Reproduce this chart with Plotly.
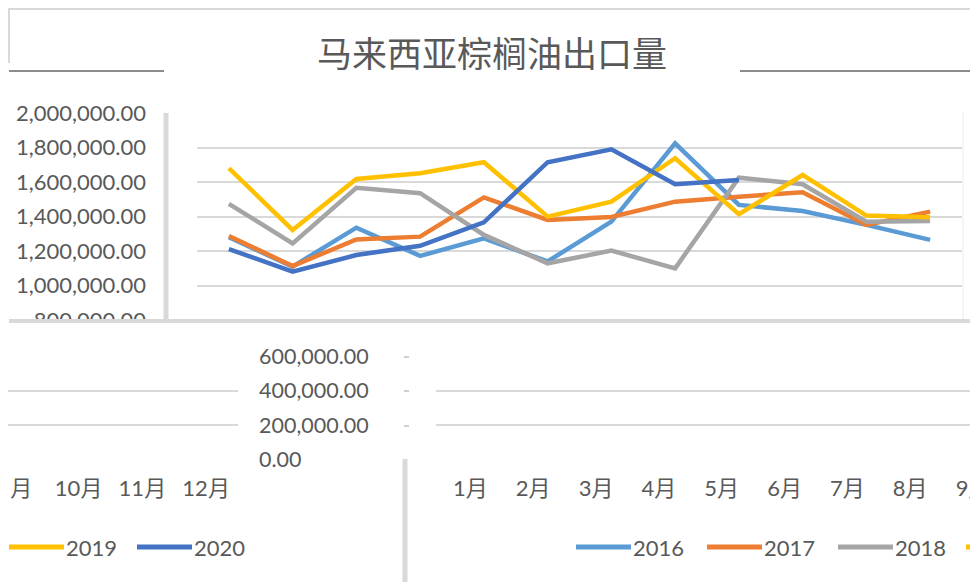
import plotly.graph_objects as go

W, H = 970, 582

months = ["1月", "2月", "3月", "4月", "5月", "6月", "7月", "8月", "9月", "10月", "11月", "12月"]
years = ["2016", "2017", "2018", "2019", "2020"]
colors = ["#5B9BD5", "#ED7D31", "#A5A5A5", "#FFC000", "#4472C4"]

v2016 = [1280000, 1110000, 1336000, 1172000, 1274000, 1140000, 1371000, 1826000, 1468000, 1433000, 1352000, 1265000]
v2017 = [1288000, 1113000, 1268000, 1284000, 1512000, 1381000, 1398000, 1487000, 1516000, 1541000, 1352000, 1429000]
v2018 = [1474000, 1245000, 1568000, 1536000, 1294000, 1129000, 1203000, 1100000, 1626000, 1588000, 1371000, 1375000]
v2019 = [1681000, 1323000, 1619000, 1652000, 1716000, 1400000, 1487000, 1739000, 1414000, 1642000, 1406000, 1396000]
v2020 = [1212000, 1081000, 1177000, 1231000, 1367000, 1716000, 1791000, 1588000, 1613000]
series = [v2016, v2017, v2018, v2019, v2020]

title = "马来西亚棕榈油出口量"
TXT = "#595959"
GRID = "#d9d9d9"
FONT = "Lato, 'Noto Sans CJK SC'"


def px(x):
    return x / W


def py(y):
    return 1 - y / H


fig = go.Figure()
for name, vals, col in zip(years, series, colors):
    fig.add_trace(go.Scatter(x=months[:len(vals)], y=vals, name=name, mode="lines",
                             line=dict(color=col, width=4.5), showlegend=False,
                             xaxis="x", yaxis="y"))

# the broken lower strips of the chart: empty axes that only show grid and labels
fig.add_trace(go.Scatter(x=months, y=[None] * 12, showlegend=False, xaxis="x2", yaxis="y2"))
fig.add_trace(go.Scatter(x=months, y=[None] * 12, showlegend=False, xaxis="x3", yaxis="y3"))

grid = dict(showgrid=True, gridcolor=GRID, gridwidth=2, zeroline=False, showline=False,
            automargin=False)
xcat = dict(type="category", categoryorder="array", categoryarray=months, showgrid=False,
            zeroline=False, automargin=False)

fig.update_layout(
    width=W, height=H, margin=dict(l=0, r=0, t=0, b=0, autoexpand=False),
    paper_bgcolor="white", plot_bgcolor="white",
    font=dict(family=FONT, color=TXT),
    xaxis=dict(domain=[px(197), px(962)], range=[-0.5, 11.5], showticklabels=False,
               anchor="y", **xcat),
    yaxis=dict(domain=[py(320), py(113.3)], range=[800000, 2000000], dtick=200000,
               tickformat=",.2f", tickfont=dict(size=22, color=TXT),
               ticklabelstandoff=50, anchor="x", **grid),
    xaxis2=dict(domain=[px(8), px(238)], range=[7.892, 11.5],
                tickfont=dict(size=22, color=TXT), ticklabelstandoff=13, anchor="y2", **xcat),
    yaxis2=dict(domain=[py(459.7), py(356.4)], range=[0, 600000], dtick=200000,
                tickformat=",.2f", side="right", tickfont=dict(size=21.5, color=TXT),
                ticklabelstandoff=20, anchor="x2", **grid),
    xaxis3=dict(domain=[px(436), 1], range=[-0.5, 8.0], ticklabelshift=3,
                tickfont=dict(size=22, color=TXT), ticklabelstandoff=13, anchor="y3", **xcat),
    yaxis3=dict(domain=[py(459.7), py(356.4)], range=[0, 600000], dtick=200000,
                showticklabels=False, anchor="x3", **grid),
)

shapes = []


def seg(x0, y0, x1, y1, color, width):
    shapes.append(dict(type="line", xref="paper", yref="paper", x0=px(x0), y0=py(y0),
                       x1=px(x1), y1=py(y1), line=dict(color=color, width=width), layer="above"))


def box(x0, y0, x1, y1):
    shapes.append(dict(type="rect", xref="paper", yref="paper", x0=px(x0), y0=py(y0),
                       x1=px(x1), y1=py(y1), fillcolor="white", line=dict(width=0), layer="above"))


# chart frame pieces
seg(8, 9, 970, 9, GRID, 2)
seg(9, 8, 9, 63, GRID, 2)
seg(9, 71, 164, 71, "#8c8c8c", 2)
seg(740, 71, 970, 71, "#8c8c8c", 2)
seg(963, 113, 963, 320, "#ececec", 1)
seg(166, 113, 166, 320, GRID, 5)
box(0, 323, 250, 342)
box(0, 475, 10.5, 510)
seg(9, 321, 970, 321, GRID, 4)
seg(405, 459, 405, 582, GRID, 5)
for yy in (357, 391, 426):
    seg(404, yy, 409, yy, "#cfcfcf", 2)

# legend pieces, in two broken halves
legend_groups = [(["2019", "2020"], 9, 128), (["2016", "2017", "2018"], 576, 131)]
annotations = []
for names, x_start, step in legend_groups:
    for i, name in enumerate(names):
        col = colors[years.index(name)]
        x0 = x_start + i * step
        seg(x0, 547, x0 + 55, 547, col, 5)
        annotations.append(dict(text=name, x=px(x0 + 55), y=py(547), xref="paper", yref="paper",
                                xanchor="left", yanchor="middle", showarrow=False,
                                font=dict(size=22, color=TXT, family=FONT)))
# start of the next legend entry, cut off by the right edge
seg(966, 547, 970, 547, colors[years.index("2019")], 5)

annotations.append(dict(text=title, x=px(492), y=py(51), xref="paper", yref="paper",
                        xanchor="center", yanchor="middle", showarrow=False,
                        font=dict(size=35, color=TXT, family="'Noto Sans CJK SC'")))

fig.update_layout(shapes=shapes, annotations=annotations)

fig.write_html("out.html", config={"displayModeBar": False},
               post_script="document.body.style.margin='0';document.body.style.overflow='hidden';")
